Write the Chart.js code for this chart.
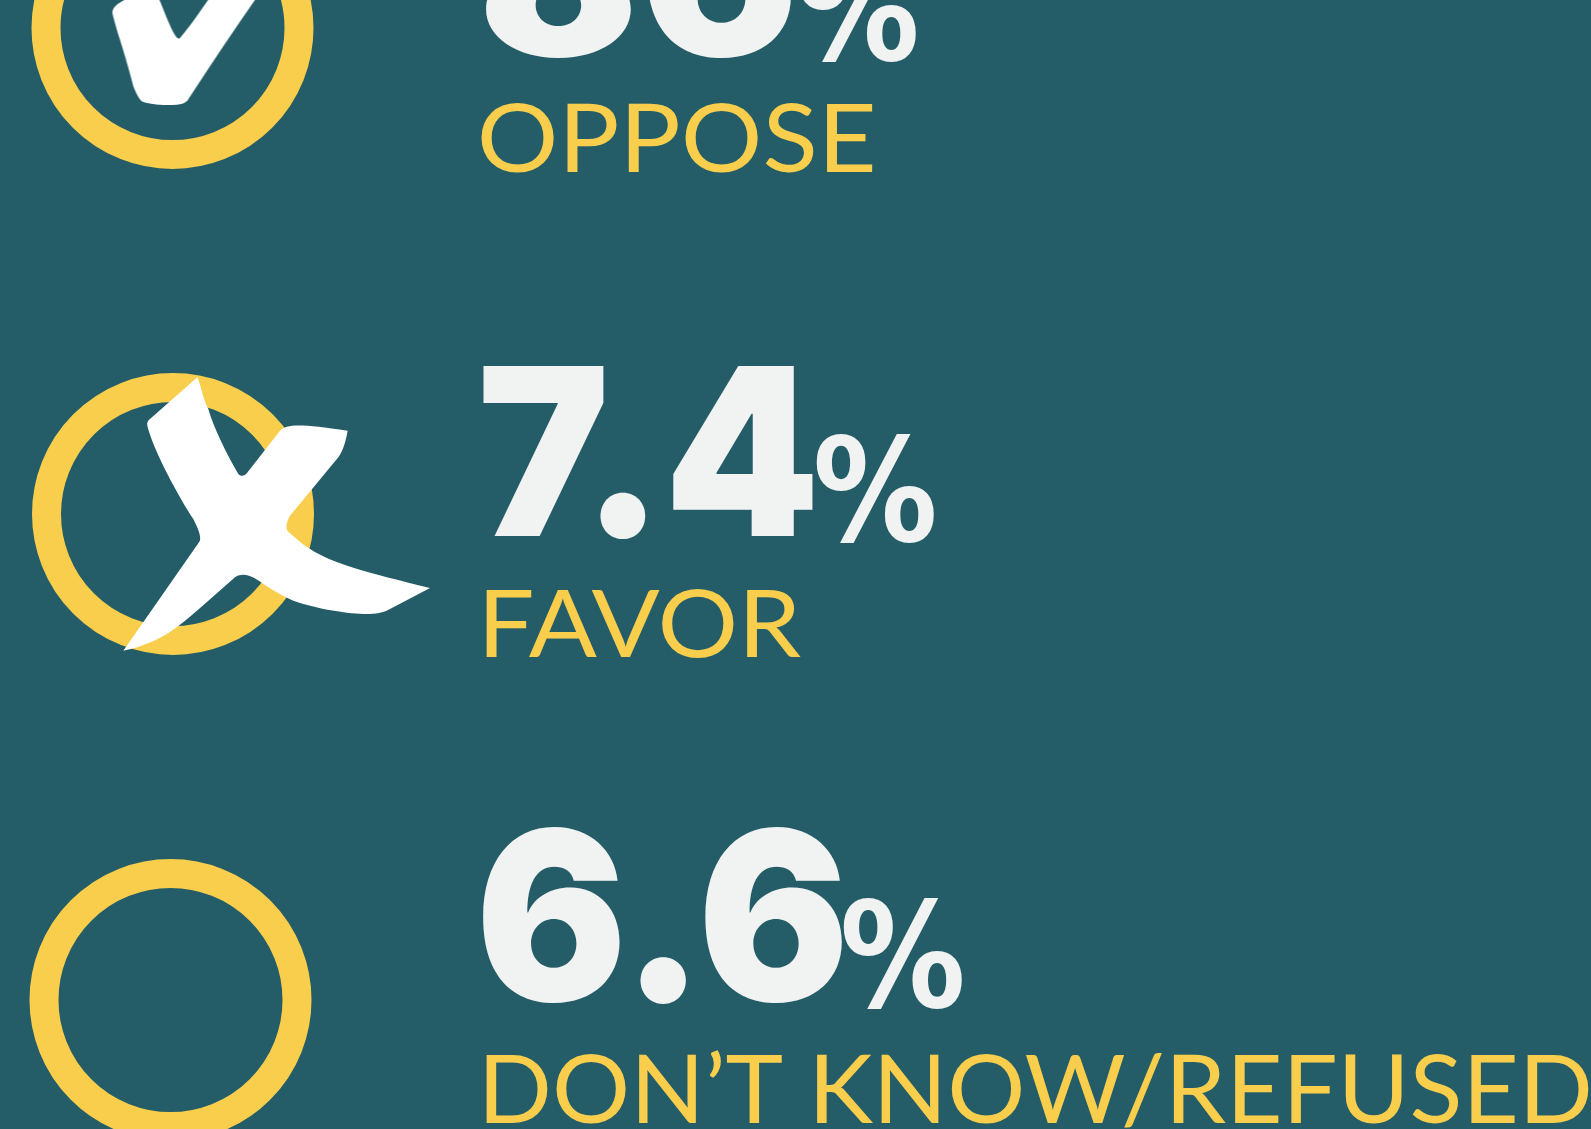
<!DOCTYPE html>
<html>
<head>
<meta charset="utf-8">
<title>Oppose / Favor</title>
<script src="https://cdn.jsdelivr.net/npm/chart.js@4"></script>
<style>
  html, body { margin: 0; padding: 0; background: #245d67; overflow: hidden; }
  canvas { display: block; }
</style>
</head>
<body>
<canvas id="chart" width="1591" height="1129"></canvas>
<script>
// data
const categories = ['OPPOSE', 'FAVOR', 'DON’T KNOW/REFUSED'];
const values = [86, 7.4, 6.6];
const valueUnit = '%';

const YELLOW = '#f8ce4c';
const NUM_COLOR = '#f1f3f2';

// ring column per row, in x scale units (scale runs 0..1591)
const ringX = [172.5, 173, 170.5];

// ink boxes of the texts, top/bottom are relative to the row's y pixel
const numBox = [
  { l: 486, r: 791, t: -146, b: 30 },
  { l: 483, r: 813, t: -148, b: 25 },
  { l: 483, r: 842, t: -173, b: 4 }
];
const unitBox = [
  { l: 798, r: 916, t: -76, b: 34 },
  { l: 816, r: 934, t: -81, b: 29 },
  { l: 843, r: 962, t: -102, b: 9 }
];
const labelBox = [
  { l: 481, r: 873, t: 74, b: 145 },
  { l: 486, r: 801, t: 74, b: 144 },
  { l: 486, r: 1589, t: 49, b: 128 }
];

// hand drawn check and cross, outlines in zoomed units (3 per px)
const CHECK_PATH = 'M75 0C55 10 37 22 37 40C42 60 50 90 60 120C72 160 85 200 100 260C108 280 115 295 125 305C150 315 190 318 230 315C245 313 255 310 262 303L320 215L350 170C390 110 430 50 480 -20L340 -20L325 0C300 35 270 80 240 115C236 118 233 117 230 113C215 95 195 40 170 -20L100 -20Z';
const CROSS_PATH = 'M592 80C605 110 610 150 625 175C640 230 680 310 715 370C722 378 735 378 745 362L840 240C860 220 900 218 1043 240C1035 285 1025 305 1015 320L870 495C858 515 858 530 862 540C885 560 905 580 930 595C1000 640 1100 665 1290 712L1170 775C1150 787 1125 790 1100 790C1050 790 950 775 880 750C850 738 820 720 790 700C770 685 735 660 705 680L620 755C590 780 560 808 530 830C490 860 430 890 370 900L597 575C605 565 600 545 580 505C540 445 460 300 442 225C440 215 445 208 450 205Z';

function makeIcon(pathStr, cx, cy) {
  const c = document.createElement('canvas');
  c.width = 520;
  c.height = 520;
  const g = c.getContext('2d');
  g.translate(260, 260);
  g.scale(1 / 3, 1 / 3);
  g.translate(-cx, -cy);
  g.fillStyle = '#ffffff';
  g.fill(new Path2D(pathStr));
  return c;
}

const icons = [makeIcon(CHECK_PATH, 217.5, 85), makeIcon(CROSS_PATH, 519, 490), null];

// stretches a text so its ink fills the box
function fitText(ctx, text, font, color, left, right, top, bottom) {
  ctx.save();
  ctx.font = font;
  ctx.fillStyle = color;
  ctx.textAlign = 'left';
  ctx.textBaseline = 'alphabetic';
  const m = ctx.measureText(text);
  const inkW = m.actualBoundingBoxRight + m.actualBoundingBoxLeft;
  const inkH = m.actualBoundingBoxAscent + m.actualBoundingBoxDescent;
  const sx = (right - left) / inkW;
  const sy = (bottom - top) / inkH;
  ctx.translate(left + m.actualBoundingBoxLeft * sx, top + m.actualBoundingBoxAscent * sy);
  ctx.scale(sx, sy);
  ctx.fillText(text, 0, 0);
  ctx.restore();
}

const textPlugin = {
  id: 'rowText',
  afterDatasetsDraw(chart) {
    const ctx = chart.ctx;
    const y = chart.scales.y;
    categories.forEach((cat, i) => {
      const py = y.getPixelForValue(i);
      const n = numBox[i], u = unitBox[i], l = labelBox[i];
      fitText(ctx, String(values[i]), '900 240px Inter', NUM_COLOR, n.l, n.r, py + n.t, py + n.b);
      fitText(ctx, valueUnit, '700 150px "DejaVu Sans"', NUM_COLOR, u.l, u.r, py + u.t, py + u.b);
      fitText(ctx, cat, '400 96px Lato', YELLOW, l.l, l.r, py + l.t, py + l.b);
    });
  }
};

new Chart(document.getElementById('chart'), {
  type: 'scatter',
  data: {
    datasets: [
      {
        label: 'ring',
        data: categories.map((c, i) => ({ x: ringX[i], y: c })),
        pointStyle: 'circle',
        pointRadius: 126.5,
        pointHoverRadius: 126.5,
        pointBorderWidth: 29,
        pointBorderColor: YELLOW,
        pointBackgroundColor: 'rgba(0,0,0,0)',
        clip: false,
        order: 2
      },
      {
        label: 'mark',
        data: categories.map((c, i) => ({ x: ringX[i], y: c })),
        pointStyle: ctx => icons[ctx.dataIndex] || 'circle',
        pointRadius: ctx => (icons[ctx.dataIndex] ? 10 : 0),
        pointBorderWidth: 0,
        clip: false,
        order: 1
      }
    ]
  },
  options: {
    responsive: false,
    animation: false,
    events: [],
    layout: { autoPadding: false, padding: { top: 28, bottom: 129, left: 0, right: 0 } },
    plugins: { legend: { display: false }, tooltip: { enabled: false } },
    scales: {
      x: { type: 'linear', display: false, min: 0, max: 1591 },
      y: { type: 'category', display: false, labels: categories }
    }
  },
  plugins: [textPlugin]
});
</script>
</body>
</html>
